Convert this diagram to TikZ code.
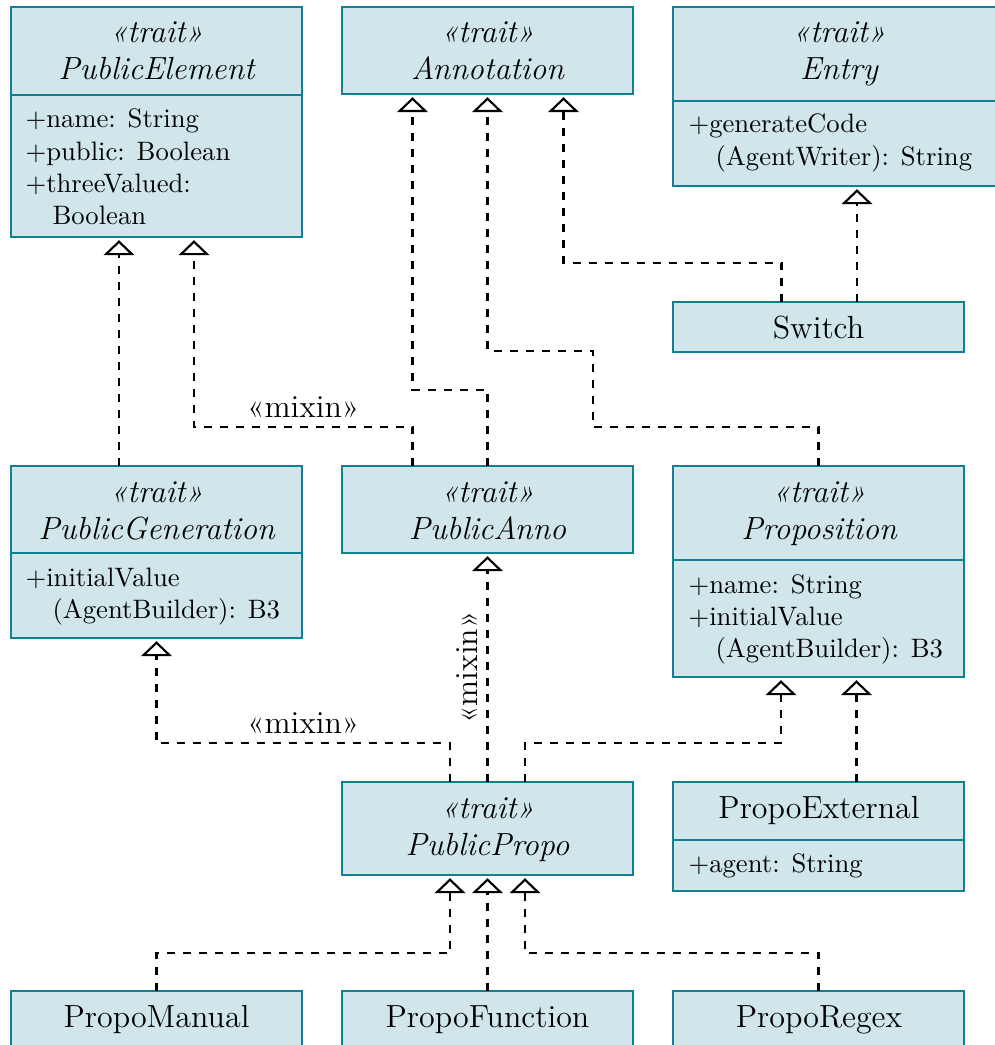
\documentclass[tikz,border=0pt]{standalone}
\usepackage{fontspec}
\usetikzlibrary{arrows.meta,calc}
\definecolor{clsdraw}{RGB}{18,128,146}
\definecolor{clsfill}{RGB}{209,230,234}
\tikzset{
  cls/.style={draw=clsdraw, fill=clsfill, line width=0.8pt, anchor=north west,
    inner sep=0pt, outer sep=0pt, minimum width=109.125pt},
  divline/.style={draw=clsdraw, line width=0.8pt},
  ttl/.style={anchor=base, inner sep=0pt, font=\large\itshape},
  cname/.style={anchor=base, inner sep=0pt, font=\large},
  attr/.style={anchor=base west, inner sep=0pt, font=\normalsize},
  impl/.style={dashed, line width=0.8pt, shorten >=1.2pt,
    -{Triangle[open, width=11.5pt, length=5.6pt]}},
  lbl/.style={font=\large},
}
\begin{document}
\begin{tikzpicture}[x=0.375pt,y=-0.375pt]
\useasboundingbox (0,0) rectangle (994,1045);

% ---------- boxes ----------
\node[cls, minimum height=86.25pt] (pe) at (11,7) {};
\node[cls, minimum height=32.625pt] (an) at (342,7) {};
\node[cls, minimum width=124.5pt, minimum height=67.125pt] (en) at (673,7) {};
\node[cls, minimum height=18.75pt] (sw) at (673,302) {};
\node[cls, minimum height=64.5pt] (pg) at (11,466) {};
\node[cls, minimum height=32.625pt] (pa) at (342,466) {};
\node[cls, minimum height=79.125pt] (pr) at (673,466) {};
\node[cls, minimum height=34.875pt] (pp) at (342,782) {};
\node[cls, minimum height=40.875pt] (px) at (673,782) {};
\node[cls, minimum height=22.125pt] (pm) at (11,991) {};
\node[cls, minimum height=22.125pt] (pf) at (342,991) {};
\node[cls, minimum height=22.125pt] (pz) at (673,991) {};

% ---------- compartment dividers ----------
\draw[divline] (pe.west |- 0,95) -- (pe.east |- 0,95);
\draw[divline] (en.west |- 0,101) -- (en.east |- 0,101);
\draw[divline] (pg.west |- 0,553) -- (pg.east |- 0,553);
\draw[divline] (pr.west |- 0,560) -- (pr.east |- 0,560);
\draw[divline] (px.west |- 0,840) -- (px.east |- 0,840);

% ---------- texts ----------
\node[ttl] (pe-t1) at (156.5,43) {«trait»};
\node[ttl] (pe-t2) at (156.5,80) {PublicElement};
\node[attr] (pe-a1) at (25,128) {+name: String};
\node[attr] (pe-a2) at (25,160) {+public: Boolean};
\node[attr] (pe-a3) at (25,192) {+threeValued:};
\node[attr] (pe-a4) at (52,224) {Boolean};

\node[ttl] (an-t1) at (487.5,43) {«trait»};
\node[ttl] (an-t2) at (487.5,80) {Annotation};

\node[ttl] (en-t1) at (839,43) {«trait»};
\node[ttl] (en-t2) at (839,80) {Entry};
\node[attr] (en-a1) at (688,133) {+generateCode};
\node[attr] (en-a2) at (715,165) {(AgentWriter): String};

\node[cname] (sw-t) at (818.5,338) {Switch};

\node[ttl] (pg-t1) at (156.5,502) {«trait»};
\node[ttl] (pg-t2) at (156.5,539) {PublicGeneration};
\node[attr] (pg-a1) at (25,586) {+initialValue};
\node[attr] (pg-a2) at (52,618) {(AgentBuilder): B3};

\node[ttl] (pa-t1) at (487.5,502) {«trait»};
\node[ttl] (pa-t2) at (487.5,539) {PublicAnno};

\node[ttl] (pr-t1) at (819,502) {«trait»};
\node[ttl] (pr-t2) at (819,539) {Proposition};
\node[attr] (pr-a1) at (688,593) {+name: String};
\node[attr] (pr-a2) at (688,625) {+initialValue};
\node[attr] (pr-a3) at (715,657) {(AgentBuilder): B3};

\node[ttl] (pp-t1) at (487.5,818) {«trait»};
\node[ttl] (pp-t2) at (487.5,855) {PublicPropo};

\node[cname] (px-t) at (819,818) {PropoExternal};
\node[attr] (px-a1) at (688,872) {+agent: String};

\node[cname] (pm-t) at (156.5,1027) {PropoManual};
\node[cname] (pf-t) at (487.5,1027) {PropoFunction};
\node[cname] (pz-t) at (819,1027) {PropoRegex};

% ---------- anchor points ----------
\coordinate (pe-in1) at ($(pe.south)+(-37.5,0)$);
\coordinate (pe-in2) at ($(pe.south)+(37.5,0)$);
\coordinate (an-in1) at ($(an.south)+(-75,0)$);
\coordinate (an-in3) at ($(an.south)+(76,0)$);
\coordinate (sw-out1) at ($(sw.north)+(-37,0)$);
\coordinate (sw-out2) at ($(sw.north)+(38.5,0)$);
\coordinate (pg-out) at ($(pg.north)+(-37.5,0)$);
\coordinate (pa-out1) at ($(pa.north)+(-75,0)$);
\coordinate (pr-in1) at ($(pr.south)+(-37.5,0)$);
\coordinate (pr-in2) at ($(pr.south)+(38,0)$);
\coordinate (pp-out1) at ($(pp.north)+(-37.5,0)$);
\coordinate (pp-out3) at ($(pp.north)+(37.5,0)$);
\coordinate (pp-in1) at ($(pp.south)+(-37.5,0)$);
\coordinate (pp-in3) at ($(pp.south)+(37.5,0)$);
\coordinate (px-out) at ($(px.north)+(38,0)$);

% ---------- connectors ----------
\draw[impl] (pg-out) -- (pe-in1);
\draw[impl] (pa-out1) -- (pa-out1 |- 0,427)
  -- node[lbl, above] {«mixin»} (pe-in2 |- 0,427) -- (pe-in2);
\draw[impl] (pa.north) -- (pa.north |- 0,390) -| (an-in1);
\draw[impl] (pr.north) -- (pr.north |- 0,427) -- (593,427) -- (593,351)
  -- (an.south |- 0,351) -- (an.south);
\draw[impl] (sw-out1) -- (sw-out1 |- 0,263) -| (an-in3);
\draw[impl] (sw-out2) -- (sw-out2 |- en.south);

\draw[impl] (pp-out1) -- (pp-out1 |- 0,743)
  -- node[lbl, above] {«mixin»} (pg.south |- 0,743) -- (pg.south);
\draw[impl] (pp.north) -- node[lbl, midway, above, sloped] {«mixin»} (pa.south);
\draw[impl] (pp-out3) -- (pp-out3 |- 0,743) -| (pr-in1);
\draw[impl] (px-out) -- (pr-in2);

\draw[impl] (pm.north) -- (pm.north |- 0,953) -| (pp-in1);
\draw[impl] (pf.north) -- (pp.south);
\draw[impl] (pz.north) -- (pz.north |- 0,953) -| (pp-in3);
\end{tikzpicture}
\end{document}
